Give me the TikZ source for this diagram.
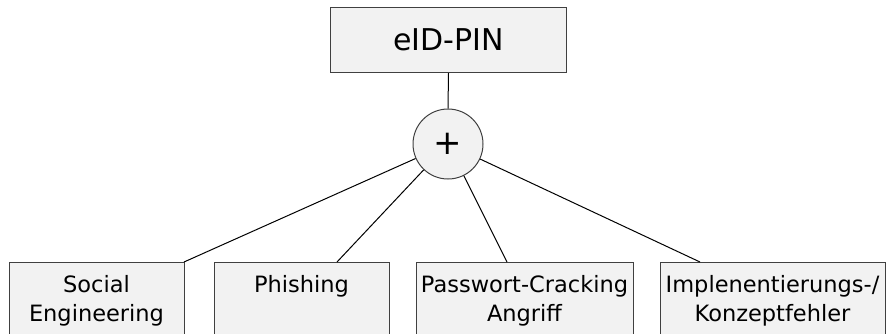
\documentclass[tikz,border=0pt]{standalone}
\usepackage{fontspec}
\setmainfont{DejaVu Sans}
\begin{document}
\begin{tikzpicture}[x=1pt,y=-1pt,
  box/.style={draw=black!75,fill=black!5,line width=1pt,rectangle,inner sep=0pt,anchor=north west},
  gate/.style={draw=black!75,fill=black!5,line width=1pt,circle,minimum size=70pt,inner sep=0pt,font=\fontsize{34}{34}\selectfont},
  lbl/.style={font=\fontsize{22.5}{29}\selectfont,align=center,anchor=base,inner sep=0pt},
  link/.style={line width=1pt,black}]
\useasboundingbox (0,0) rectangle (886,333);
% top event
\node[box,minimum width=236pt,minimum height=65pt] (top) at (330,7) {};
\node[font=\fontsize{30}{30}\selectfont,inner sep=0pt] (toptext) at (top.center) {eID-PIN};
% OR gate
\node[gate] (plus) at (448,144) {+};
% leaf events (open at the lower edge)
\node[box,minimum width=175pt,minimum height=90pt] (b1) at (9,262) {};
\node[box,minimum width=175pt,minimum height=90pt] (b2) at (214,262) {};
\node[box,minimum width=217pt,minimum height=90pt] (b3) at (416,262) {};
\node[box,minimum width=225pt,minimum height=90pt] (b4) at (660,262) {};
% labels: base anchor sits on the last line
\node[lbl] (t1) at (96.5,321) {Social\\Engineering};
\node[lbl] (t2) at (301.5,292) {Phishing};
\node[lbl] (t3) at (524.5,321) {Passwort-Cracking\\Angriff};
\node[lbl] (t4) at (772.5,321) {Implenentierungs-/\\Konzeptfehler};
% attachment points on the leaf tops
\coordinate (c1) at (184,262);
\coordinate (c2) at (337,262);
\coordinate (c3) at (507,262);
\coordinate (c4) at (700,262);
% connectors
\draw[link] (top.south) -- (plus.north);
\draw[link] (plus) -- (c1);
\draw[link] (plus) -- (c2);
\draw[link] (plus) -- (c3);
\draw[link] (plus) -- (c4);
\end{tikzpicture}
\end{document}
